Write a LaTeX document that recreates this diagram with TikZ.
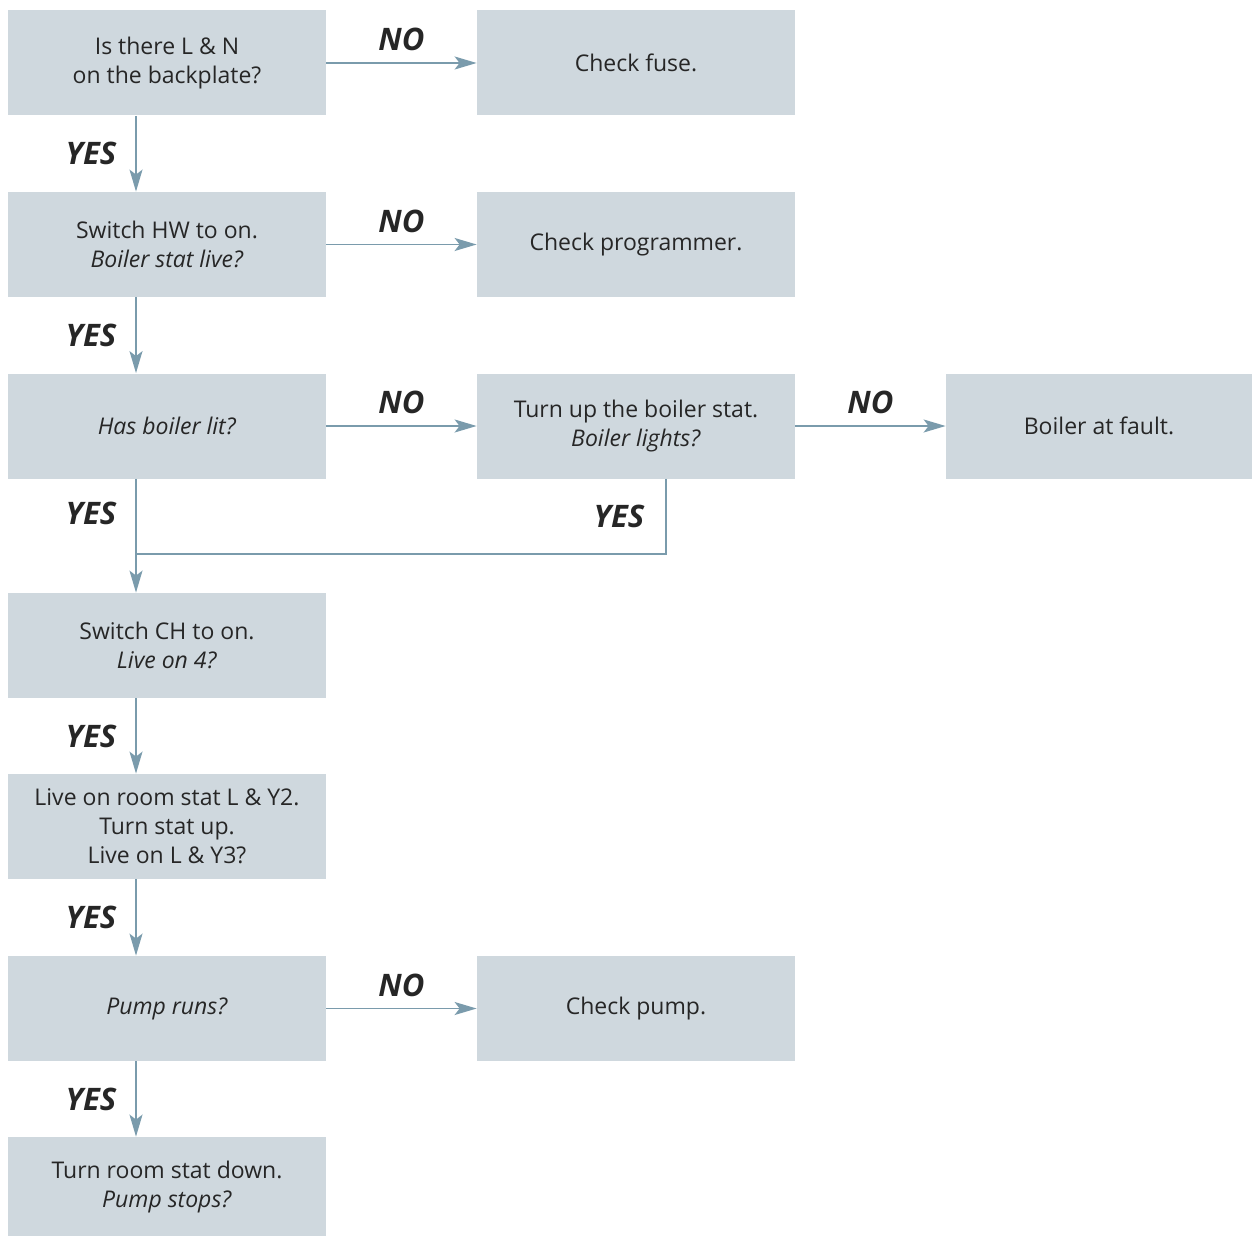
\documentclass[tikz,border=0pt]{standalone}
\usepackage{fontspec}
\setmainfont{Open Sans}
\usetikzlibrary{positioning,arrows.meta}
\definecolor{boxgrey}{HTML}{CFD8DE}
\definecolor{flowblue}{HTML}{7A9BAC}
\definecolor{ink}{HTML}{262626}
\begin{document}
\begin{tikzpicture}[x=0.5pt,y=-0.5pt]
\tikzstyle{step box}=[fill=boxgrey,text=ink,align=center,inner sep=0pt,minimum width=159pt,minimum height=52.5pt,font=\fontsize{11.5}{14.5}\selectfont]
\tikzstyle{flow}=[draw=flowblue,line width=0.75pt,-{Stealth[length=11pt,width=6.5pt,inset=2.5pt]}]
\tikzstyle{line}=[draw=flowblue,line width=0.75pt]
\tikzstyle{answer}=[text=ink,inner sep=0pt,font=\fontsize{15.5}{17}\selectfont\bfseries\itshape]
\useasboundingbox (0,0) rectangle (1252,1236);
\coordinate (spine) at (136,0);
\coordinate (branch) at (666,0);
\coordinate (join) at (0,554);
\node[step box] (q1) at (167,63) {Is there L \& N\\on the backplate?};
\node[step box] (f1) at (636,63) {Check fuse.};
\node[step box] (q2) at (167,244.5) {Switch HW to on.\\\textit{Boiler stat live?}};
\node[step box] (f2) at (636,244.5) {Check programmer.};
\node[step box] (q3) at (167,426) {\textit{Has boiler lit?}};
\node[step box] (t1) at (636,426) {Turn up the boiler stat.\\\textit{Boiler lights?}};
\node[step box,minimum width=153pt] (f3) at (1099,426) {Boiler at fault.};
\node[step box] (q4) at (167,645.5) {Switch CH to on.\\\textit{Live on 4?}};
\node[step box] (q5) at (167,826.5) {Live on room stat L \& Y2.\\Turn stat up.\\Live on L \& Y3?};
\node[step box] (q6) at (167,1008.5) {\textit{Pump runs?}};
\node[step box] (f4) at (636,1008.5) {Check pump.};
\node[step box,minimum height=49.5pt] (q7) at (167,1186.5) {Turn room stat down.\\\textit{Pump stops?}};
\draw[flow] (q1) -- node[answer,above=5.5pt] (no1) {NO} (f1);
\draw[flow] (q2) -- node[answer,above=5.5pt] (no2) {NO} (f2);
\draw[flow] (q3) -- node[answer,above=5.5pt] (no3) {NO} (t1);
\draw[flow] (t1) -- node[answer,above=5.5pt] (no4) {NO} (f3);
\draw[flow] (q6) -- node[answer,above=5.5pt] (no5) {NO} (f4);
\draw[flow] (q1.south -| spine) -- node[answer,left=9.5pt] (yes1) {YES} (q2.north -| spine);
\draw[flow] (q2.south -| spine) -- node[answer,left=9.5pt] (yes2) {YES} (q3.north -| spine);
\draw[flow] (q3.south -| spine) -- node[answer,left=9.5pt,pos=0.3] (yes3) {YES} (q4.north -| spine);
\draw[line] (t1.south -| branch) -- node[answer,left=10.5pt] (yes4) {YES} (join -| branch) -- (join -| spine);
\draw[flow] (q4.south -| spine) -- node[answer,left=9.5pt] (yes5) {YES} (q5.north -| spine);
\draw[flow] (q5.south -| spine) -- node[answer,left=9.5pt] (yes6) {YES} (q6.north -| spine);
\draw[flow] (q6.south -| spine) -- node[answer,left=9.5pt] (yes7) {YES} (q7.north -| spine);
\end{tikzpicture}
\end{document}
